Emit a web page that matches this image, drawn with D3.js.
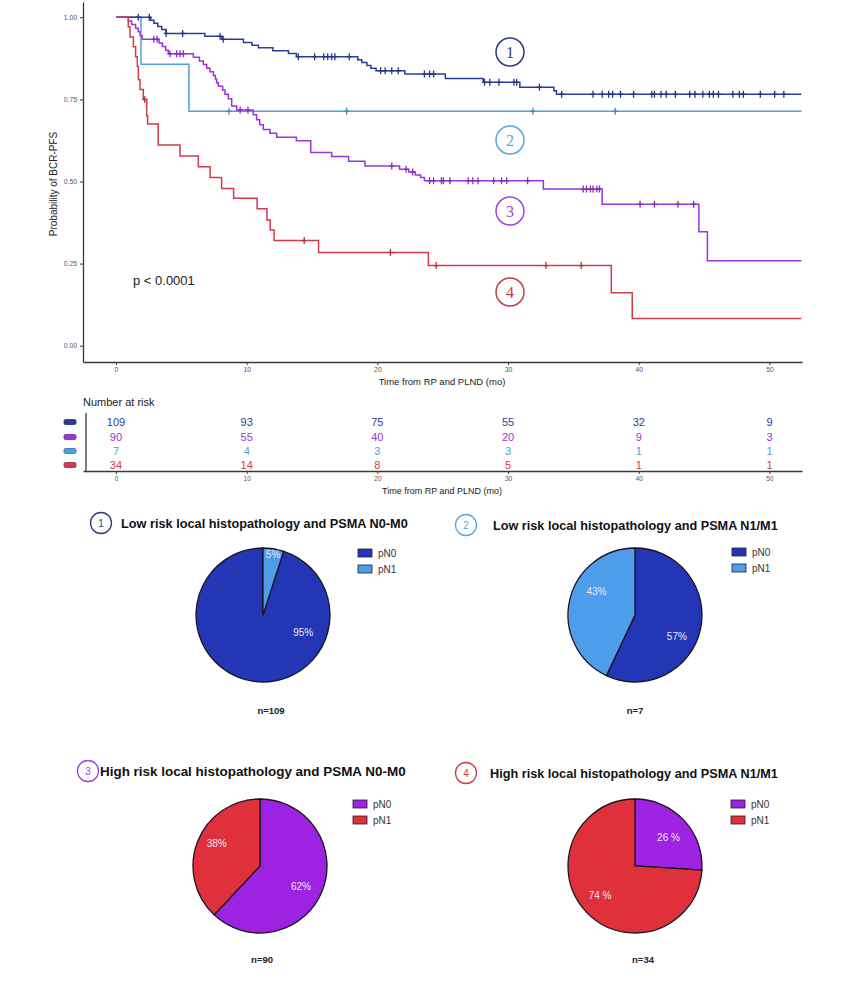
<!DOCTYPE html>
<html><head><meta charset="utf-8">
<script src="https://cdn.jsdelivr.net/npm/d3@7"></script>
<style>body{margin:0;background:#fff;} svg{display:block;font-family:"Liberation Sans",Arial,sans-serif;}</style>
</head><body><svg id="c" width="854" height="998"></svg>
<script>
// ---------------- DATA ----------------
const groupIds = ["1", "2", "3", "4"];
// Group 1: low risk, PSMA N0-M0
const g1Times = [0, 2.65, 2.9, 3.2, 3.5, 3.83, 6.8, 8.1, 9.75, 10.4, 10.9, 12.0, 13.2, 13.8, 18.5, 18.8, 19.2, 19.5, 19.9, 22.1, 25.2, 28.1, 30.9, 33.5, 33.7];
const g1Surv  = [1, 0.991, 0.982, 0.972, 0.963, 0.951, 0.942, 0.933, 0.923, 0.915, 0.907, 0.898, 0.890, 0.880, 0.871, 0.862, 0.853, 0.845, 0.837, 0.827, 0.814, 0.802, 0.787, 0.776, 0.766];
const g1Censor = [1.7, 2.55, 3.83, 5.1, 7.96, 8.2, 13.95, 15.2, 15.9, 16.2, 16.5, 16.75, 17.85, 20.25, 20.6, 21.1, 21.6, 23.6, 24.0, 24.3, 28.2, 28.6, 29.3, 30.45, 30.66, 32.4, 34.1, 36.5, 37.2, 37.7, 38.0, 38.6, 39.6, 41.0, 41.2, 41.7, 42.1, 42.8, 43.9, 44.3, 44.9, 45.4, 45.7, 46.1, 47.2, 47.7, 48.0, 49.3, 50.4, 51.1];
// Group 2: low risk, PSMA N1/M1
const g2Times = [0, 1.91, 5.58];
const g2Surv  = [1, 0.857, 0.714];
const g2Censor = [8.65, 17.65, 31.9, 38.2];
// Group 3: high risk, PSMA N0-M0
const g3Times = [0, 0.94, 1.2, 1.5, 1.7, 1.85, 2.0, 3.3, 3.55, 3.8, 4.0, 5.92, 6.38, 6.68, 6.94, 7.19, 7.45, 7.6, 7.7, 7.83, 8.16, 8.34, 8.6, 8.85, 9.23, 10.5, 10.76, 11.0, 11.27, 11.78, 12.3, 13.8, 14.9, 16.5, 17.8, 19.05, 21.7, 22.4, 22.9, 23.3, 23.6, 32.7, 37.2, 44.6, 45.25];
const g3Surv  = [1, 0.989, 0.978, 0.967, 0.956, 0.944, 0.933, 0.922, 0.911, 0.9, 0.889, 0.878, 0.867, 0.856, 0.845, 0.834, 0.823, 0.812, 0.801, 0.79, 0.779, 0.766, 0.752, 0.73, 0.718, 0.703, 0.688, 0.673, 0.658, 0.647, 0.635, 0.624, 0.588, 0.576, 0.562, 0.547, 0.537, 0.529, 0.520, 0.512, 0.502, 0.477, 0.431, 0.347, 0.259];
const g3Censor = [2.9, 3.15, 4.13, 4.64, 4.9, 5.15, 9.5, 10.1, 21.1, 22.2, 22.7, 24.0, 24.3, 24.9, 25.05, 25.55, 26.95, 27.3, 27.7, 28.9, 29.5, 29.9, 31.5, 35.75, 36.0, 36.3, 36.5, 36.8, 37.0, 40.1, 41.2, 43.0, 44.2];
// Group 4: high risk, PSMA N1/M1
const g4Times = [0, 0.94, 1.07, 1.33, 1.5, 1.63, 1.71, 1.84, 2.09, 2.35, 2.42, 3.23, 4.9, 6.3, 7.2, 8.08, 9.0, 10.8, 11.55, 11.8, 12.1, 15.5, 23.9, 37.9, 39.5];
const g4Surv  = [1, 0.971, 0.94, 0.91, 0.88, 0.85, 0.81, 0.78, 0.75, 0.70, 0.675, 0.611, 0.578, 0.545, 0.512, 0.479, 0.449, 0.417, 0.383, 0.352, 0.32, 0.284, 0.244, 0.161, 0.083];
const g4Censor = [2.2, 14.4, 21.0, 24.5, 32.9, 35.6];
const followEnd = 52.45;

const xTicks = [0, 10, 20, 30, 40, 50];
const yTicks = [0, 0.25, 0.5, 0.75, 1];
const pValueText = "p < 0.0001";
const yTitle = "Probability of BCR-PFS";
const xTitle = "Time from RP and PLND (mo)";

// Number at risk (rows in table order)
const riskTimes = [0, 10, 20, 30, 40, 50];
const riskG1 = [109, 93, 75, 55, 32, 9];
const riskG3 = [90, 55, 40, 20, 9, 3];
const riskG2 = [7, 4, 3, 3, 1, 1];
const riskG4 = [34, 14, 8, 5, 1, 1];

// Pie charts
const pieTitles = [
  "Low risk local histopathology and PSMA N0-M0",
  "Low risk local histopathology and PSMA N1/M1",
  "High risk local histopathology and PSMA N0-M0",
  "High risk local histopathology and PSMA N1/M1"
];
const pieCategories = ["pN0", "pN1"];
const pie1Values = [95, 5];
const pie2Values = [57, 43];
const pie3Values = [62, 38];
const pie4Values = [26, 74];
const pieLabelTexts = [["95%", "5%"], ["57%", "43%"], ["62%", "38%"], ["26 %", "74 %"]];
const pieN = [109, 7, 90, 34];

// ---------------- STYLE / LAYOUT ----------------
const C = {navy: "#2b3d9b", light: "#4fa0dc", purple: "#9a35d9", red: "#d33a4b"};
const circleC = {"1": "#2e3a80", "2": "#5aa6da", "3": "#9b45e0", "4": "#c93a4a"};
const pieC = {navy: "#2236b6", light: "#4d9deb", purple: "#9d22e2", red: "#e0303b"};

const svg = d3.select("#c");
svg.append("rect").attr("width", 854).attr("height", 998).attr("fill", "#fff");

const x = d3.scaleLinear().domain([-2.525, 52.49]).range([83, 802]);
const y = d3.scaleLinear().domain([-0.0496, 1.0466]).range([362, 2]);

// axes
const axisCol = "#3a3a3a";
const gy = svg.append("g").attr("transform", "translate(83,0)")
  .call(d3.axisLeft(y).tickValues(yTicks).tickFormat(d3.format(".2f")).tickSize(3).tickSizeOuter(0));
const gx = svg.append("g").attr("transform", "translate(0,362)")
  .call(d3.axisBottom(x).tickValues(xTicks).tickFormat(d3.format("d")).tickSize(3).tickSizeOuter(0));
[gy, gx].forEach(g => {
  g.select(".domain").attr("stroke", axisCol).attr("stroke-width", 1.3);
  g.selectAll(".tick line").attr("stroke", axisCol);
  g.selectAll(".tick text").attr("fill", "#555").attr("font-size", 6.8).attr("font-family", "Liberation Sans, Arial");
});
gx.selectAll(".tick text").attr("y", 5);

svg.append("text").attr("transform", "translate(57,184) rotate(-90)").attr("text-anchor", "middle")
  .attr("font-size", 10).attr("fill", "#222").text(yTitle);
svg.append("text").attr("x", 442).attr("y", 385).attr("text-anchor", "middle")
  .attr("font-size", 9.5).attr("fill", "#222").text(xTitle);

// curves
const series = [
  {id: "2", times: g2Times, surv: g2Surv, censor: g2Censor, color: C.light},
  {id: "1", times: g1Times, surv: g1Surv, censor: g1Censor, color: C.navy},
  {id: "3", times: g3Times, surv: g3Surv, censor: g3Censor, color: C.purple},
  {id: "4", times: g4Times, surv: g4Surv, censor: g4Censor, color: C.red}
];
const line = d3.line().x(d => x(d[0])).y(d => y(d[1])).curve(d3.curveStepAfter);
series.forEach(s => {
  const pts = s.times.map((t, i) => [t, s.surv[i]]);
  pts.push([followEnd, s.surv[s.surv.length - 1]]);
  svg.append("path").attr("d", line(pts)).attr("fill", "none")
    .attr("stroke", s.color).attr("stroke-width", 1.5);
  const g = svg.append("g");
  s.censor.forEach(c => {
    const idx = d3.bisectRight(s.times, c) - 1;
    const cx = x(c), cy = y(s.surv[idx]);
    g.append("path").attr("d", `M${cx},${cy - 3.5}V${cy + 3.5}M${cx - 2.5},${cy}H${cx + 2.5}`)
      .attr("stroke", d3.color(s.color).darker(0.4)).attr("stroke-width", 1.3);
  });
});

// numbered circles on KM
const kmCircle = [{id: "1", cx: 510, cy: 52}, {id: "2", cx: 510, cy: 140}, {id: "3", cx: 510, cy: 211}, {id: "4", cx: 510, cy: 292}];
kmCircle.forEach(k => {
  svg.append("circle").attr("cx", k.cx).attr("cy", k.cy).attr("r", 14)
    .attr("fill", "none").attr("stroke", circleC[k.id]).attr("stroke-width", 1.5);
  svg.append("text").attr("x", k.cx).attr("y", k.cy + 5.5).attr("text-anchor", "middle")
    .attr("font-family", "Liberation Serif, Times New Roman, serif").attr("font-size", 16)
    .attr("fill", circleC[k.id]).text(k.id);
});

svg.append("text").attr("x", 133).attr("y", 285).attr("font-size", 13).attr("fill", "#222").text(pValueText);

// ---------------- RISK TABLE ----------------
svg.append("text").attr("x", 83).attr("y", 406).attr("font-size", 11).attr("fill", "#222").text("Number at risk");
const riskRows = [
  {vals: riskG1, color: C.navy, y: 422},
  {vals: riskG3, color: C.purple, y: 437},
  {vals: riskG2, color: C.light, y: 451},
  {vals: riskG4, color: C.red, y: 465}
];
riskRows.forEach(r => {
  svg.append("rect").attr("x", 64).attr("y", r.y - 2.5).attr("width", 12).attr("height", 5).attr("rx", 1.5)
    .attr("fill", r.color).attr("stroke", d3.color(r.color).darker(1)).attr("stroke-width", 0.8);
  svg.selectAll(null).data(riskTimes).enter().append("text")
    .attr("x", (d) => x(d)).attr("y", r.y + 4).attr("text-anchor", "middle")
    .attr("font-size", 11).attr("fill", r.color).text((d, i) => r.vals[i]);
});
const ty = svg.append("g").attr("transform", "translate(0,471)")
  .call(d3.axisBottom(x).tickValues(xTicks).tickFormat(d3.format("d")).tickSize(3).tickSizeOuter(0));
ty.select(".domain").attr("stroke", axisCol).attr("stroke-width", 1.3);
ty.selectAll(".tick line").attr("stroke", axisCol);
ty.selectAll(".tick text").attr("fill", "#555").attr("font-size", 6.5).attr("y", 5);
svg.append("line").attr("x1", 86).attr("x2", 86).attr("y1", 413).attr("y2", 471).attr("stroke", axisCol).attr("stroke-width", 1.3);
svg.append("text").attr("x", 442).attr("y", 494).attr("text-anchor", "middle")
  .attr("font-size", 9).attr("fill", "#222").text(xTitle);

// ---------------- PIES ----------------
const pieData = [
  {id: "1", values: pie1Values, colors: [pieC.navy, pieC.light]},
  {id: "2", values: pie2Values, colors: [pieC.navy, pieC.light]},
  {id: "3", values: pie3Values, colors: [pieC.purple, pieC.red]},
  {id: "4", values: pie4Values, colors: [pieC.purple, pieC.red]}
];
const pieLayout = [
  {cx: 263, cy: 615, start: 0.05, circX: 101, circY: 523, textX: 121, textW: 287, legX: 358, legY: 553, nX: 271, nY: 714,
   lab: [[114, 44], [9.5, 61]]},
  {cx: 635, cy: 615, start: 0, circX: 466, circY: 525, textX: 493, textW: 285, legX: 732, legY: 552, nX: 635, nY: 714,
   lab: [[117, 47], [301, 45]]},
  {cx: 260, cy: 866, start: 0, circX: 88, circY: 771, textX: 100, textW: 306, legX: 353, legY: 804, nX: 262, nY: 963,
   lab: [[117, 46], [298, 49]]},
  {cx: 635, cy: 866, start: 0, circX: 466, circY: 773, textX: 490, textW: 288, legX: 731, legY: 804, nX: 643, nY: 963,
   lab: [[49.6, 44], [229.4, 46]]}
];
const R = 67;
pieData.forEach((p, i) => {
  const L = pieLayout[i];
  const a0 = L.start * 2 * Math.PI;
  const pie = d3.pie().sort(null).startAngle(a0).endAngle(a0 + 2 * Math.PI);
  const arc = d3.arc().innerRadius(0).outerRadius(R);
  const g = svg.append("g").attr("transform", `translate(${L.cx},${L.cy})`);
  g.selectAll("path").data(pie(p.values)).join("path").attr("d", arc)
    .attr("fill", (d, j) => p.colors[j]).attr("stroke", "#1c1420").attr("stroke-width", 1.3);
  pieLabelTexts[i].forEach((t, j) => {
    const ang = L.lab[j][0] * Math.PI / 180, rr = L.lab[j][1];
    g.append("text").attr("x", rr * Math.sin(ang)).attr("y", -rr * Math.cos(ang) + 3.5)
      .attr("text-anchor", "middle").attr("font-size", 10).attr("fill", "#efe4f4").text(t);
  });
  // title
  svg.append("circle").attr("cx", L.circX).attr("cy", L.circY).attr("r", 10.5)
    .attr("fill", "none").attr("stroke", circleC[p.id]).attr("stroke-width", 1.3);
  svg.append("text").attr("x", L.circX).attr("y", L.circY + 3.5).attr("text-anchor", "middle")
    .attr("font-size", 10).attr("fill", circleC[p.id]).text(p.id);
  const tt = svg.append("text").attr("x", L.textX).attr("y", L.circY + 4.5).attr("font-size", 12)
    .attr("font-weight", "bold").attr("fill", "#111").text(pieTitles[i]);
  const w = tt.node().getComputedTextLength();
  tt.attr("font-size", 12 * L.textW / w);
  // legend
  pieCategories.forEach((c, j) => {
    const yy = L.legY + j * 16;
    svg.append("rect").attr("x", L.legX).attr("y", yy - 4).attr("width", 14).attr("height", 8)
      .attr("fill", p.colors[j]).attr("stroke", "#222").attr("stroke-width", 0.8);
    svg.append("text").attr("x", L.legX + 20).attr("y", yy + 3.5).attr("font-size", 10)
      .attr("fill", "#333").text(c);
  });
  svg.append("text").attr("x", L.nX).attr("y", L.nY).attr("text-anchor", "middle")
    .attr("font-size", 9.5).attr("font-weight", "bold").attr("fill", "#222").text("n=" + pieN[i]);
});
</script></body></html>
